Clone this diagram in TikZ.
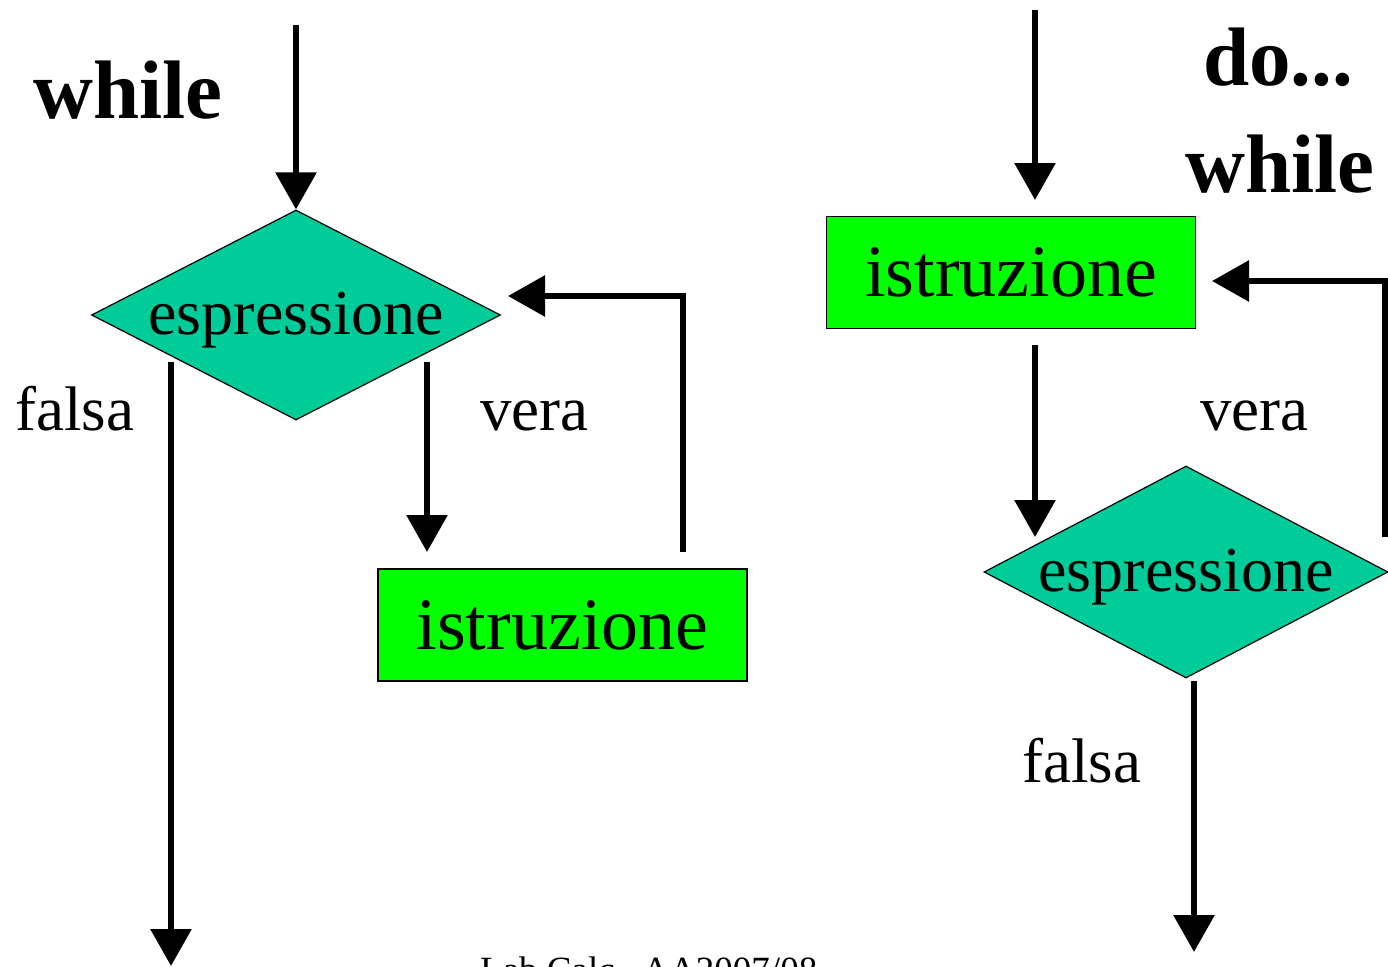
\documentclass[tikz,border=0pt]{standalone}
\usepackage{fontspec}
\setmainfont{Liberation Serif}
\usetikzlibrary{shapes.geometric,arrows.meta}
\definecolor{condfill}{RGB}{0,204,153}
\definecolor{stmtfill}{RGB}{0,255,0}
\begin{document}
\begin{tikzpicture}[x=1pt,y=-1pt,
 flow/.style={line width=6pt,-{Triangle[length=37pt,width=40pt]}},
 cond/.style={diamond,draw=black,line width=1.2pt,fill=condfill,inner sep=0pt},
 condtext/.style={font=\fontsize{64}{70}\selectfont,yshift=-5pt},
 stmt/.style={rectangle,draw=black,line width=1.5pt,fill=stmtfill,minimum width=369pt,minimum height=112pt,inner sep=0pt,font=\fontsize{74}{80}\selectfont},
 lab/.style={font=\fontsize{63}{70}\selectfont,anchor=base west,inner sep=0pt},
 ttl/.style={font=\fontsize{83}{90}\selectfont\bfseries,anchor=base west,inner sep=0pt}]
\useasboundingbox (0,0) rectangle (1388,966);

% ---- while ----
\node[ttl] (w1) at (33,118) {while};
\node[cond,minimum width=409pt,minimum height=210pt,label={[condtext]center:espressione}] (d1) at (296,315) {};
\node[stmt] (s1) at (562.5,625) {istruzione};
\coordinate (t1) at (296,25);
\coordinate (f1s) at (171,362);
\coordinate (f1e) at (171,966);
\coordinate (v1s) at (427,362);
\coordinate (v1e) at (427,552);
\coordinate (r1s) at (683,552);
\coordinate (r1e) at (508,296);
\draw[flow] (t1) -- (d1.north);
\draw[flow] (f1s) -- (f1e);
\draw[flow] (v1s) -- (v1e);
\draw[flow] (r1s) |- (r1e);
\node[lab] (lf1) at (15,430) {falsa};
\node[lab] (lv1) at (480,430) {vera};

% ---- do...while ----
\node[ttl] (w2a) at (1203,85) {do...};
\node[ttl] (w2b) at (1185,192) {while};
\node[stmt] (s2) at (1011,272.5) {istruzione};
\node[cond,minimum width=404pt,minimum height=212pt,label={[condtext]center:espressione}] (d2) at (1186,572) {};
\coordinate (t2) at (1035,10);
\coordinate (t2e) at (1035,200);
\coordinate (a2s) at (1035,345);
\coordinate (a2e) at (1035,537);
\coordinate (r2s) at (1385,537);
\coordinate (r2e) at (1212,281);
\coordinate (f2s) at (1194,681);
\coordinate (f2e) at (1194,952);
\draw[flow] (t2) -- (t2e);
\draw[flow] (a2s) -- (a2e);
\draw[flow] (r2s) |- (r2e);
\draw[flow] (f2s) -- (f2e);
\node[lab] (lv2) at (1200,430) {vera};
\node[lab] (lf2) at (1022,782) {falsa};

\node[font=\fontsize{37}{40}\selectfont,anchor=base west,inner sep=0pt] (foot) at (480,982) {Lab Calc.\ \ AA2007/08};
\end{tikzpicture}
\end{document}
